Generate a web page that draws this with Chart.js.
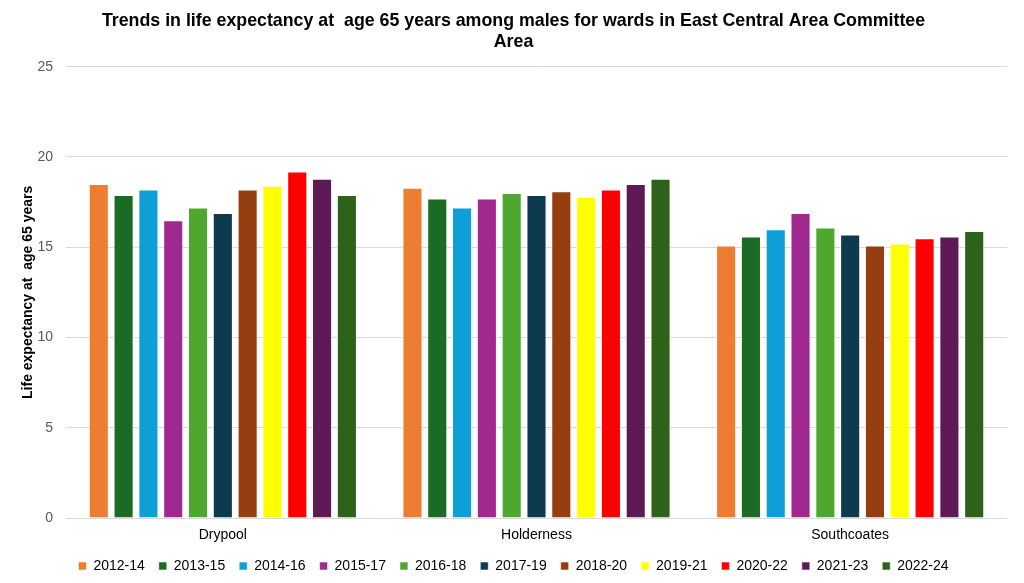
<!DOCTYPE html>
<html>
<head>
<meta charset="utf-8">
<script src="https://cdn.jsdelivr.net/npm/chart.js@4"></script>
<style>
  html, body { margin: 0; padding: 0; background: #fff; }
  #wrap { width: 1024px; height: 583px; }
</style>
</head>
<body>
<div id="wrap"><canvas id="chart" width="1024" height="583"></canvas></div>
<script>
const wards = ['Drypool', 'Holderness', 'Southcoates'];
const periods = ['2012-14', '2013-15', '2014-16', '2015-17', '2016-18', '2017-19',
                 '2018-20', '2019-21', '2020-22', '2021-23', '2022-24'];
const drypool = [18.5, 17.9, 18.2, 16.5, 17.2, 16.9, 18.2, 18.4, 19.2, 18.8, 17.9];
const holderness = [18.3, 17.7, 17.2, 17.7, 18.0, 17.9, 18.1, 17.8, 18.2, 18.5, 18.8];
const southcoates = [15.1, 15.6, 16.0, 16.9, 16.1, 15.7, 15.1, 15.2, 15.5, 15.6, 15.9];
const periodColours = ['#ED7D31', '#1B6B25', '#0E9FD8', '#A0298F', '#4EA72E', '#0E3A4F',
                       '#953E10', '#FFFF00', '#FF0000', '#5E1A55', '#2D6219'];
const yTicks = [0, 5, 10, 15, 20, 25];

const datasets = periods.map((p, i) => ({
    label: p,
    data: [drypool[i], holderness[i], southcoates[i]],
    backgroundColor: periodColours[i],
    borderColor: 'rgba(255,255,255,0.55)',
    borderWidth: 1,
    categoryPercentage: 0.87,
    barPercentage: 0.81,
}));

Chart.defaults.font.family = '"Liberation Sans", Arial, sans-serif';
Chart.defaults.color = '#595959';

new Chart(document.getElementById('chart').getContext('2d'), {
    type: 'bar',
    data: { labels: wards, datasets: datasets },
    options: {
        responsive: false,
        animation: false,
        layout: { padding: { left: 20, right: 17, top: 10, bottom: 0 } },
        plugins: {
            title: {
                display: true,
                text: ['Trends in life expectancy at  age 65 years among males for wards in East Central Area Committee', 'Area'],
                color: '#000',
                font: { size: 17.8, weight: 'bold' },
                lineHeight: 1.2,
                padding: { top: 0, bottom: 14 },
            },
            legend: {
                position: 'bottom',
                labels: {
                    color: '#000',
                    font: { size: 14 },
                    boxWidth: 8,
                    boxHeight: 8,
                    padding: 14,
                },
            },
            tooltip: { enabled: false },
        },
        scales: {
            x: {
                afterFit: axis => { axis.height = 27; },
                grid: { display: false, drawTicks: false },
                border: { display: false },
                ticks: { color: '#000', font: { size: 14 }, padding: 9 },
            },
            y: {
                min: 0,
                max: 25,
                afterBuildTicks: axis => { axis.ticks = yTicks.map(v => ({ value: v })); },
                afterFit: axis => { axis.width = 46; },
                grid: { color: '#d9d9d9', drawTicks: false },
                border: { display: false },
                ticks: { color: '#595959', font: { size: 14 }, padding: 13 },
                title: {
                    display: true,
                    text: 'Life expectancy at  age 65 years',
                    color: '#000',
                    font: { size: 14, weight: 'bold' },
                    padding: { top: 0, bottom: 2 },
                },
            },
        },
    },
});
</script>
</body>
</html>
